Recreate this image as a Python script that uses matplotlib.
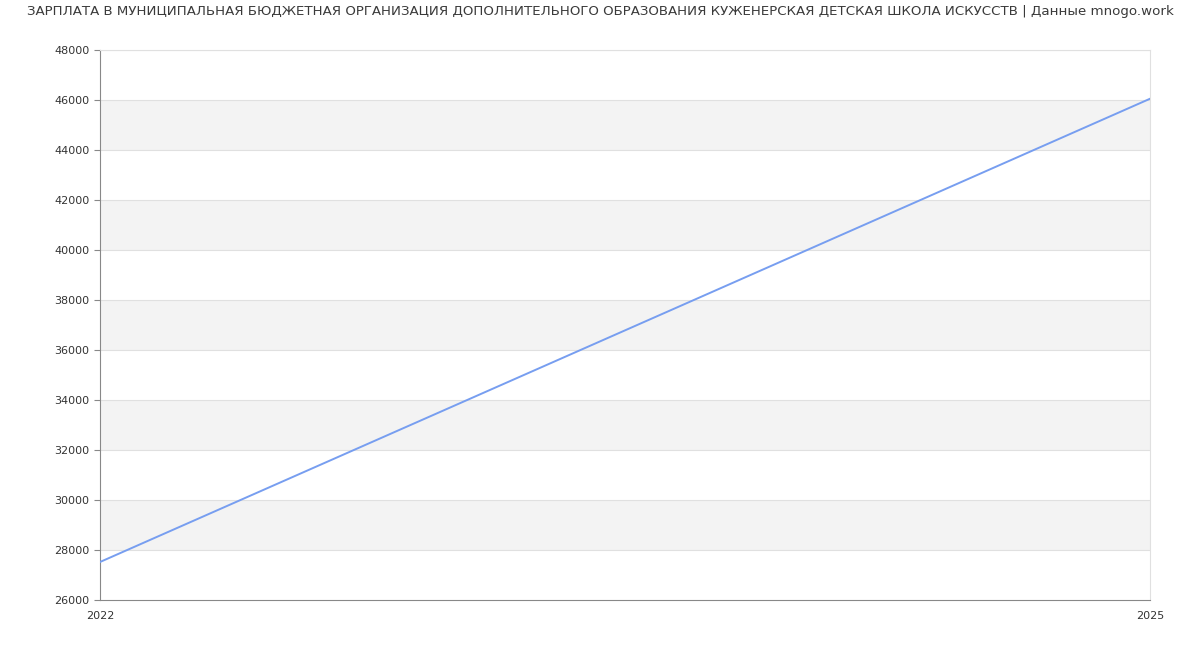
import matplotlib
matplotlib.use('Agg')
import matplotlib.pyplot as plt

title = "ЗАРПЛАТА В МУНИЦИПАЛЬНАЯ БЮДЖЕТНАЯ ОРГАНИЗАЦИЯ ДОПОЛНИТЕЛЬНОГО ОБРАЗОВАНИЯ КУЖЕНЕРСКАЯ ДЕТСКАЯ ШКОЛА ИСКУССТВ | Данные mnogo.work"
years = [2022, 2025]
salary = [27520, 46050]
yticks = list(range(26000, 48001, 2000))

fig = plt.figure(figsize=(12, 6.5), dpi=100)
ax = fig.add_axes([100/1200, 50/650, 1050/1200, 550/650])

# alternating bands
for i, lo in enumerate(yticks[:-1]):
    if i % 2 == 1:
        ax.axhspan(lo, lo + 2000, color='#f3f3f3', zorder=0, lw=0)
for t in yticks[1:]:
    ax.axhline(t, color='#e0e0e0', lw=0.8, zorder=1)

ax.plot(years, salary, color='#779ef0', lw=1.4, zorder=3)

ax.set_xlim(2022, 2025)
ax.set_ylim(26000, 48000)
ax.set_xticks(years)
ax.set_yticks(yticks)
ax.tick_params(axis='y', labelsize=8, colors='#333333', length=4, width=0.8)
ax.tick_params(axis='x', labelsize=8, colors='#333333', length=0, pad=8)
ax.tick_params(axis='both', color='#888888')
xl = ax.get_xticklabels()
ax.spines['left'].set_color('#888888')
ax.spines['bottom'].set_color('#888888')
ax.spines['top'].set_color('#e0e0e0')
ax.spines['right'].set_color('#e0e0e0')
for s in ax.spines.values():
    s.set_linewidth(0.8)

fig.text(0.5, 1 - 12/650, title, ha='center', va='center', fontsize=9.6, color='#3a3a3a')

fig.savefig('out.png', dpi=100)
